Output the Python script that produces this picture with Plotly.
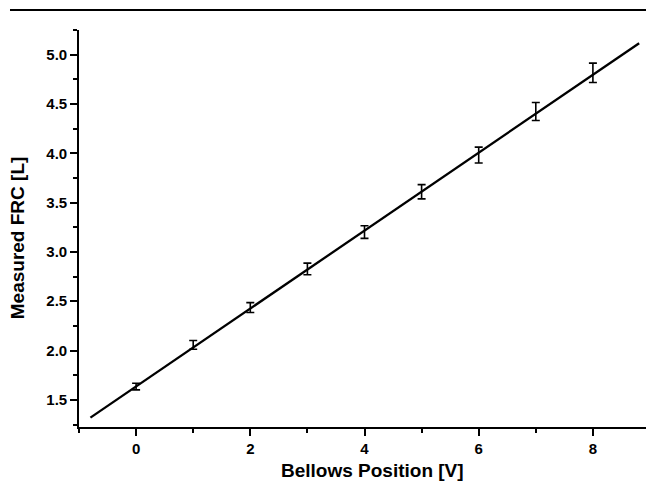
import plotly.graph_objects as go

# Data
bellows_v = [0, 1, 2, 3, 4, 5, 6, 7, 8]
frc_l = [1.635, 2.058, 2.436, 2.827, 3.201, 3.61, 3.982, 4.424, 4.816]
frc_err = [0.034, 0.044, 0.05, 0.059, 0.064, 0.072, 0.081, 0.091, 0.098]
fit_intercept = 1.636
fit_slope = 0.395
fit_x = [-0.8, 8.81]
fit_y = [fit_intercept + fit_slope * v for v in fit_x]

x_ticks = [0, 2, 4, 6, 8]
y_ticks = [1.5, 2.0, 2.5, 3.0, 3.5, 4.0, 4.5, 5.0]

FONT = "Liberation Sans, Arial, sans-serif"

fig = go.Figure()
fig.add_trace(go.Scatter(
    x=fit_x, y=fit_y, mode="lines",
    line=dict(color="black", width=2.3),
    showlegend=False, hoverinfo="skip",
))
fig.add_trace(go.Scatter(
    x=bellows_v, y=frc_l, mode="markers",
    marker=dict(size=1, color="rgba(0,0,0,0)"),
    error_y=dict(type="data", array=frc_err, visible=True,
                 color="black", thickness=1.6, width=4),
    showlegend=False,
))

fig.update_layout(
    width=646, height=492,
    margin=dict(l=79, r=0, t=30, b=65),
    paper_bgcolor="white", plot_bgcolor="white",
    font=dict(family=FONT, color="black"),
    xaxis=dict(
        range=[-1, 8.93], tickvals=x_ticks, ticktext=[str(v) for v in x_ticks],
        ticks="outside", ticklen=7, tickwidth=1.5, tickcolor="black",
        showline=True, linecolor="black", linewidth=1.6,
        showgrid=False, zeroline=False,
        tickfont=dict(family=FONT, size=15, weight="bold"),
        minor=dict(dtick=1, tick0=-1, ticks="outside", ticklen=4,
                   tickwidth=1.5, tickcolor="black", showgrid=False),
    ),
    yaxis=dict(
        range=[1.225, 5.25], tickvals=y_ticks, ticktext=[f"{v:.1f}" for v in y_ticks],
        ticks="outside", ticklen=7, tickwidth=1.5, tickcolor="black",
        showline=True, linecolor="black", linewidth=1.6,
        showgrid=False, zeroline=False,
        tickfont=dict(family=FONT, size=15, weight="bold"),
        minor=dict(dtick=0.25, tick0=1.25, ticks="outside", ticklen=4,
                   tickwidth=1.5, tickcolor="black", showgrid=False),
    ),
    annotations=[
        dict(text="Bellows Position [V]", xref="paper", yref="paper",
             x=0.517, y=-0.11, showarrow=False, xanchor="center", yanchor="middle",
             font=dict(family=FONT, size=19, weight="bold")),
        dict(text="Measured FRC [L]", xref="paper", yref="paper",
             x=-0.109, y=0.476, showarrow=False, textangle=-90,
             xanchor="center", yanchor="middle",
             font=dict(family=FONT, size=19, weight="bold")),
    ],
    shapes=[
        dict(type="line", xref="paper", yref="paper",
             x0=-0.1217, x1=1.0, y0=1.0504, y1=1.0504,
             line=dict(color="black", width=2)),
    ],
)

fig.write_html("out.html")
